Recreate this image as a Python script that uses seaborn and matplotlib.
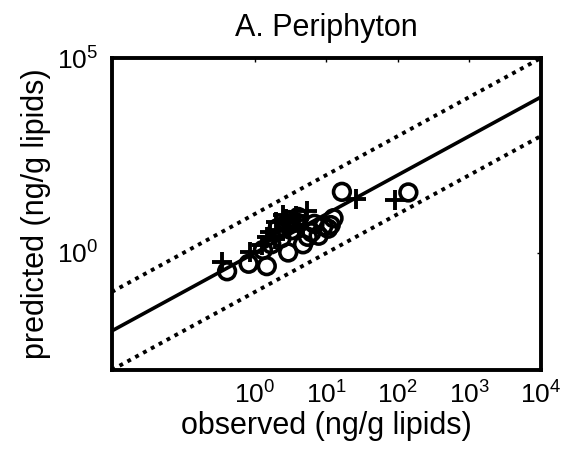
import numpy as np
import pandas as pd
import matplotlib
matplotlib.use("Agg")
import matplotlib.pyplot as plt
import seaborn as sns

# ---- data ----
circle_observed = [0.41, 0.82, 1.47, 2.93, 4.72, 7.8, 10.6, 12.6, 16.5, 140.0,
                   4.05, 2.36, 3.26, 6.2, 9.1, 1.7, 2.8, 3.9, 5.5, 2.1,
                   3.0, 6.8, 11.5, 1.3]
circle_predicted = [0.34, 0.53, 0.46, 1.03, 1.67, 2.77, 4.2, 7.8, 37.0, 35.7,
                    8.4, 2.39, 3.83, 3.4, 4.9, 1.67, 5.5, 6.0, 2.6, 4.4,
                    7.0, 5.6, 5.2, 1.2]
plus_observed = [0.35, 0.87, 1.28, 1.61, 2.0, 2.5, 3.5, 5.3, 26.0, 91.0,
                 3.05, 4.2, 2.2, 1.9, 2.7, 1.5, 3.8]
plus_predicted = [0.58, 1.04, 1.58, 3.4, 6.2, 9.3, 6.9, 11.8, 24.0, 23.0,
                  4.3, 4.86, 4.0, 2.3, 7.6, 2.6, 9.0]

line_x = [1e-2, 1e4]
line_factors = [1.0, 10.0, 0.1]   # 1:1 line and factor-of-10 bounds

x_ticks = [1e0, 1e1, 1e2, 1e3, 1e4]
y_ticks = [1e0, 1e5]

title_text = "A. Periphyton"
x_label = "observed (ng/g lipids)"
y_label = "predicted (ng/g lipids)"

# ---- style ----
sns.set_style("white")
plt.rcParams["font.family"] = ["Liberation Sans", "DejaVu Sans"]
plt.rcParams["mathtext.fontset"] = "custom"
plt.rcParams["mathtext.rm"] = "Liberation Sans"
plt.rcParams["mathtext.it"] = "Liberation Sans"
plt.rcParams["text.color"] = "black"
plt.rcParams["axes.labelcolor"] = "black"
plt.rcParams["xtick.color"] = "black"
plt.rcParams["ytick.color"] = "black"

fig = plt.figure(figsize=(5.61, 4.58), dpi=100)
ax = fig.add_axes([111.7 / 561, (458 - 370) / 458, (541 - 111.7) / 561, (370 - 58) / 458])

lines_df = pd.DataFrame({
    "x": line_x * len(line_factors),
    "y": [x * f for f in line_factors for x in line_x],
    "kind": [f for f in line_factors for _ in line_x],
})
for f in line_factors:
    sub = lines_df[lines_df["kind"] == f]
    sns.lineplot(data=sub, x="x", y="y", ax=ax, color="black",
                 linewidth=2.6 if f == 1.0 else 2.8,
                 linestyle="-" if f == 1.0 else (0, (1, 1.3)),
                 estimator=None, sort=False)

sns.scatterplot(x=circle_observed, y=circle_predicted, ax=ax, marker="o",
                s=145, facecolor="none", edgecolor="black", linewidth=2.6, zorder=3)
sns.scatterplot(x=plus_observed, y=plus_predicted, ax=ax, marker="+",
                s=190, color="black", linewidth=2.8, zorder=4)

ax.set_xscale("log")
ax.set_yscale("log")
ax.set_xlim(1e-2, 1e4)
ax.set_ylim(1e-3, 1e5)
ax.set_xticks(x_ticks)
ax.set_yticks(y_ticks)
ax.minorticks_off()
ax.tick_params(direction="in", length=3, width=1, top=True, right=True,
               labelsize=19, colors="black", labelcolor="black", pad=8)
ax.tick_params(axis="y", pad=10)

for sp in ax.spines.values():
    sp.set_linewidth(2.8)
    sp.set_color("black")

ax.set_title(title_text, fontsize=22, pad=16, color="black")
ax.set_xlabel(x_label, fontsize=22, labelpad=2, color="black")
ax.set_ylabel(y_label, fontsize=22, labelpad=4, color="black")

fig.savefig("out.png", dpi=100)
